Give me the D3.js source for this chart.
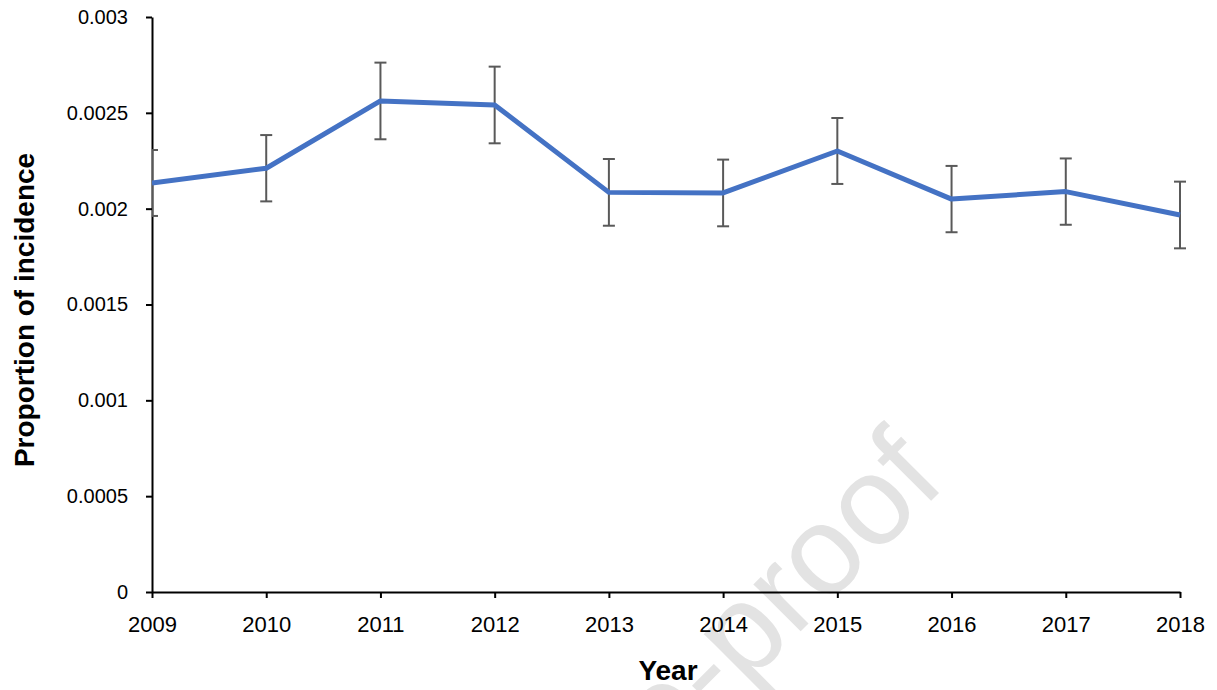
<!DOCTYPE html>
<html>
<head>
<meta charset="utf-8">
<script src="https://cdn.jsdelivr.net/npm/d3@7"></script>
<style>
  body { margin: 0; background: #fff; }
  svg { display: block; font-family: "Liberation Sans", Arial, sans-serif; }
</style>
</head>
<body>
<svg></svg>
<script>
const dims = { width: 1217, height: 690 }
const margin = { top: 17, right: 37, bottom: 98, left: 152 }

// values
const years = [2009, 2010, 2011, 2012, 2013, 2014, 2015, 2016, 2017, 2018]
const incidence = [0.002134, 0.002211, 0.002562, 0.002541, 0.002085, 0.002082, 0.002301, 0.00205, 0.002089, 0.001967]
const errors = [0.000172, 0.000173, 0.0002, 0.0002, 0.000174, 0.000174, 0.000172, 0.000173, 0.000173, 0.000174]
const yTicks = [0, 0.0005, 0.001, 0.0015, 0.002, 0.0025, 0.003]

const rows = years.map((y, i) => ({ year: y, value: incidence[i], err: errors[i] }))

const svg = d3.select('svg')
  .attr('width', dims.width)
  .attr('height', dims.height)

const w = dims.width - margin.left - margin.right
const h = dims.height - margin.top - margin.bottom

const x = d3.scaleLinear().domain([2009, 2018]).range([margin.left, margin.left + w])
const y = d3.scaleLinear().domain([0, 0.003]).range([margin.top + h, margin.top])

// watermark behind everything
svg.append('text')
  .attr('transform', 'translate(948,484) rotate(-45)')
  .attr('text-anchor', 'end')
  .attr('font-size', 126)
  .attr('fill', '#e3e3e3')
  .text('Journal Pre-proof')

svg.append('clipPath').attr('id', 'plot')
  .append('rect')
    .attr('x', margin.left).attr('y', 0)
    .attr('width', w + 10).attr('height', margin.top + h)

// axes
const xAxis = svg.append('g')
  .attr('transform', `translate(0,${margin.top + h})`)
  .call(d3.axisBottom(x).tickValues(years).tickFormat(d3.format('d'))
    .tickSize(6).tickSizeOuter(0).tickPadding(18))
xAxis.attr('font-family', null)
xAxis.selectAll('text').attr('font-size', 22).attr('fill', '#000')

const yAxis = svg.append('g')
  .attr('transform', `translate(${margin.left},0)`)
  .call(d3.axisLeft(y).tickValues(yTicks).tickFormat(d => String(d))
    .tickSize(6).tickSizeOuter(0).tickPadding(18))
yAxis.attr('font-family', null)
yAxis.selectAll('text').attr('font-size', 20).attr('fill', '#000')

svg.selectAll('.domain, .tick line').attr('stroke', '#000').attr('stroke-width', 2)

// error bars
const bars = svg.append('g').attr('clip-path', 'url(#plot)')
  .attr('stroke', '#595959').attr('stroke-width', 2)
  .selectAll('g').data(rows).enter().append('g')

bars.append('line')
  .attr('x1', d => x(d.year)).attr('x2', d => x(d.year))
  .attr('y1', d => y(d.value + d.err)).attr('y2', d => y(d.value - d.err))
bars.append('line')
  .attr('x1', d => x(d.year) - 6).attr('x2', d => x(d.year) + 6)
  .attr('y1', d => y(d.value + d.err)).attr('y2', d => y(d.value + d.err))
bars.append('line')
  .attr('x1', d => x(d.year) - 6).attr('x2', d => x(d.year) + 6)
  .attr('y1', d => y(d.value - d.err)).attr('y2', d => y(d.value - d.err))

// series line
svg.append('path').datum(rows)
  .attr('clip-path', 'url(#plot)')
  .attr('fill', 'none')
  .attr('stroke', '#4472C4')
  .attr('stroke-width', 5)
  .attr('stroke-linejoin', 'round')
  .attr('d', d3.line().x(d => x(d.year)).y(d => y(d.value)))

// axis titles
svg.append('text')
  .attr('transform', `translate(34,310) rotate(-90)`)
  .attr('text-anchor', 'middle')
  .attr('font-size', 28).attr('font-weight', 'bold')
  .text('Proportion of incidence')

svg.append('text')
  .attr('x', 668).attr('y', 680)
  .attr('text-anchor', 'middle')
  .attr('font-size', 28).attr('font-weight', 'bold')
  .text('Year')
</script>
</body>
</html>
